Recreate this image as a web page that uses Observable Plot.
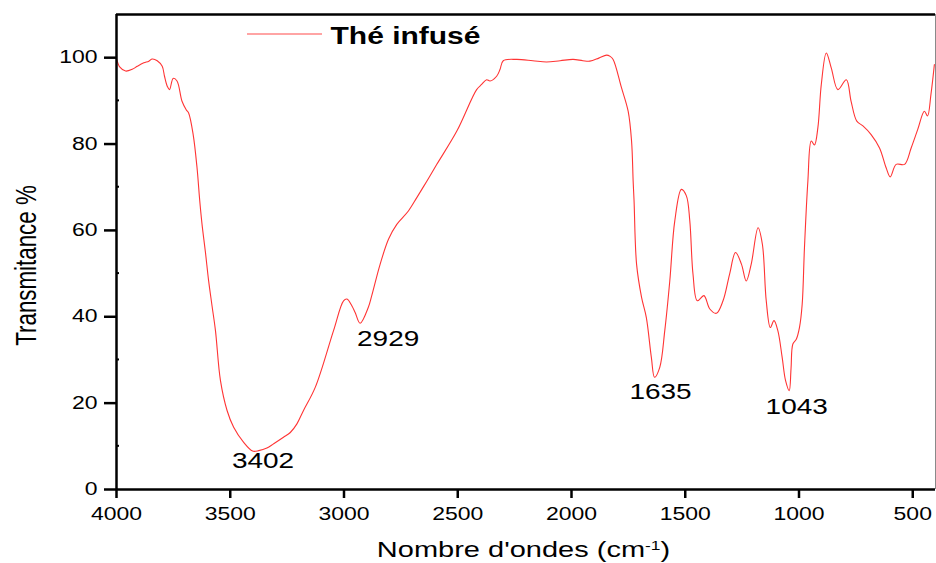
<!DOCTYPE html>
<html>
<head>
<meta charset="utf-8">
<script src="https://cdn.jsdelivr.net/npm/d3@7"></script>
<script src="https://cdn.jsdelivr.net/npm/@observablehq/plot@0.6"></script>
<style>
  html, body { margin: 0; padding: 0; background: #fff; }
  #chart { width: 936px; height: 563px; }
</style>
</head>
<body>
<div id="chart"></div>
<script>
// FTIR spectrum of brewed tea: wavenumber (cm-1) and transmittance (%)
const wavenumbers = [
  4000, 3985, 3960, 3931, 3909, 3880, 3858, 3843, 3821, 3799,
  3789, 3777, 3767, 3751, 3734, 3712, 3693, 3683, 3663, 3646,
  3634, 3624, 3609, 3595, 3580, 3565, 3543, 3514, 3485, 3441,
  3402, 3375, 3339, 3309, 3266, 3236, 3207, 3178, 3126, 3046,
  3002, 2987, 2965, 2951, 2929, 2893, 2878, 2841, 2804, 2768,
  2717, 2680, 2636, 2592, 2504, 2417, 2395, 2373, 2358, 2329,
  2314, 2300, 2241, 2170, 2110, 2050, 1993, 1950, 1919, 1880,
  1846, 1830, 1817, 1780, 1751, 1736, 1729, 1725, 1714, 1692,
  1671, 1649, 1635, 1612, 1590, 1568, 1546, 1517, 1495, 1480,
  1466, 1447, 1418, 1392, 1363, 1334, 1305, 1279, 1253, 1232,
  1210, 1180, 1161, 1144, 1126, 1110, 1093, 1074, 1059, 1043,
  1035, 1027, 1012, 998, 986, 976, 961, 946, 932, 917,
  902, 880, 858, 829, 792, 771, 746, 719, 683, 646,
  617, 599, 573, 536, 507, 478, 449, 435, 420, 405
];
const transmittance = [
  99.8, 97.8, 96.9, 97.3, 98.0, 98.8, 99.2, 99.7, 99.3, 98.0,
  95.7, 93.4, 92.6, 95.2, 94.6, 89.9, 87.9, 87.2, 82.2, 74.5,
  66.8, 61.4, 54.9, 48.3, 42.5, 36.8, 25.2, 18.3, 14.4, 10.9,
  8.9, 9.0, 9.6, 10.6, 12.1, 13.2, 15.2, 18.3, 23.7, 36.8,
  43.7, 44.1, 42.5, 41.0, 38.5, 42.2, 44.9, 52.2, 58.0, 61.4,
  64.5, 67.6, 71.4, 75.3, 83.0, 92.6, 93.8, 94.9, 94.6, 95.7,
  97.3, 99.3, 99.6, 99.3, 99.0, 99.3, 99.6, 99.3, 99.2, 99.9,
  100.6, 100.3, 99.6, 93.0, 87.6, 80.7, 71.4, 66.8, 52.2, 44.5,
  39.8, 30.6, 26.0, 28.3, 36.8, 48.3, 62.2, 69.5, 68.0, 62.2,
  49.9, 43.7, 44.9, 41.8, 40.8, 43.7, 49.9, 54.9, 52.2, 48.3,
  52.2, 60.6, 56.8, 43.7, 37.5, 39.1, 36.8, 30.6, 25.2, 22.9,
  28.0, 33.7, 34.8, 37.5, 42.9, 56.0, 71.4, 80.7, 79.8, 83.8,
  93.8, 101.1, 97.6, 92.6, 94.9, 89.9, 85.3, 84.2, 82.2, 79.1,
  74.5, 72.4, 75.3, 75.3, 79.1, 83.4, 87.6, 86.5, 91.5, 98.4
];

// Annotated absorption bands
const peakWavenumbers = [3402, 2929, 1635, 1043];

// Axes
const xTicks = [4000, 3500, 3000, 2500, 2000, 1500, 1000, 500];
const yTicks = [0, 20, 40, 60, 80, 100];
const yMinorTicks = [10, 30, 50, 70, 90];
const xDomain = [4000, 400];
const yDomain = [0, 110];

// Texts
const seriesName = "Thé infusé";
const xTitleParts = ["Nombre d'ondes (cm", "-1", ")"];
const yTitle = "Transmitance %";

// ---- layout / style ----
const lineColor = "#ff3434";
const fontFamily = "'Liberation Sans', Arial, Helvetica, sans-serif";
const textSquash = 0.77; // glyphs are drawn vertically compressed
const peakLabelOffsets = [[10.5, 10], [28, 16], [6, 14.5], [7.5, 17]];

const spectrum = wavenumbers.map((wn, i) => ({wn, t: transmittance[i]}));
const peaks = peakWavenumbers.map(wn => ({
  wn,
  t: transmittance[wavenumbers.indexOf(wn)],
  label: String(wn)
}));

const svgNS = "http://www.w3.org/2000/svg";

// small inward minor ticks on the left axis
function minorTicksY(index, scales, values, dimensions) {
  const g = d3.create("svg:g").attr("stroke", "#000").attr("stroke-width", 2);
  g.selectAll("line").data(yMinorTicks).join("line")
    .attr("x1", dimensions.marginLeft)
    .attr("x2", dimensions.marginLeft + 3)
    .attr("y1", d => scales.y(d))
    .attr("y2", d => scales.y(d));
  return g.node();
}

// legend swatch (line sample) inside the frame, top
function legendSwatch(index, scales, values, dimensions) {
  const {marginLeft, marginTop} = dimensions;
  return d3.create("svg:line")
    .attr("x1", marginLeft + 131)
    .attr("x2", marginLeft + 206)
    .attr("y1", marginTop + 20)
    .attr("y2", marginTop + 20)
    .attr("stroke", lineColor)
    .attr("stroke-opacity", 0.6)
    .attr("stroke-width", 1.4)
    .node();
}

const chart = Plot.plot({
  width: 936,
  height: 563,
  marginLeft: 116,
  marginRight: 1,
  marginTop: 14,
  marginBottom: 74,
  style: {fontFamily, background: "#fff", color: "#000", overflow: "visible"},
  x: {domain: xDomain},
  y: {domain: yDomain},
  marks: [
    Plot.ruleX([xDomain[1]], {stroke: "#8a8a8a", strokeWidth: 1}),
    Plot.ruleY([yDomain[1]], {stroke: "#000", strokeWidth: 2.5}),
    Plot.line(spectrum, {x: "wn", y: "t", stroke: lineColor, strokeWidth: 1.1, curve: "catmull-rom"}),
    Plot.axisX({ticks: xTicks, tickFormat: "d", tickSize: 9, tickPadding: 7, fontSize: 23, strokeWidth: 2.5, label: null}),
    Plot.axisY({ticks: yTicks, tickFormat: "d", tickSize: 12, tickPadding: 7, fontSize: 23, strokeWidth: 2.5, label: null}),
    minorTicksY,
    Plot.ruleX([xDomain[0]], {stroke: "#000", strokeWidth: 2.5}),
    Plot.ruleY([yDomain[0]], {stroke: "#000", strokeWidth: 2.5}),
    ...peaks.map((p, i) => Plot.text([p], {
      x: "wn", y: "t", text: "label",
      dx: peakLabelOffsets[i][0], dy: peakLabelOffsets[i][1],
      fontSize: 28, fill: "#000"
    })),
    Plot.text([xTitleParts.join("")], {
      text: d => d, frameAnchor: "bottom", textAnchor: "middle", lineAnchor: "middle",
      dx: -2.5, dy: 61, fontSize: 29, fill: "#000"
    }),
    Plot.text([yTitle], {
      text: d => d, frameAnchor: "left", textAnchor: "middle", lineAnchor: "top",
      rotate: -90, dx: -101, dy: 13.5, fontSize: 29, fill: "#000"
    }),
    legendSwatch,
    Plot.text([seriesName], {
      text: d => d, frameAnchor: "top-left", textAnchor: "start", lineAnchor: "middle",
      dx: 214, dy: 22, fontWeight: "bold", fontSize: 30, fill: "#000"
    })
  ]
});

document.getElementById("chart").appendChild(chart);

// x title: superscript for the unit exponent
const xTitleEl = [...chart.querySelectorAll("text")].find(t => t.textContent === xTitleParts.join(""));
if (xTitleEl) {
  xTitleEl.textContent = "";
  xTitleParts.forEach((part, i) => {
    const ts = document.createElementNS(svgNS, "tspan");
    ts.textContent = part;
    if (i === 1) {
      ts.setAttribute("font-size", "0.6em");
      ts.setAttribute("baseline-shift", "55%");
    }
    xTitleEl.appendChild(ts);
  });
}

// vertically compressed lettering (for rotated text: compressed along its length)
for (const t of chart.querySelectorAll("text")) {
  const b = t.getBBox();
  const tr = t.getAttribute("transform") || "";
  if (/rotate/.test(tr)) {
    const cx = b.x + b.width / 2;
    t.setAttribute("transform", `${tr} translate(${cx},0) scale(${textSquash},1) translate(${-cx},0)`);
  } else {
    const cy = b.y + b.height / 2;
    t.setAttribute("transform", `${tr} translate(0,${cy}) scale(1,${textSquash}) translate(0,${-cy})`);
  }
}
</script>
</body>
</html>
